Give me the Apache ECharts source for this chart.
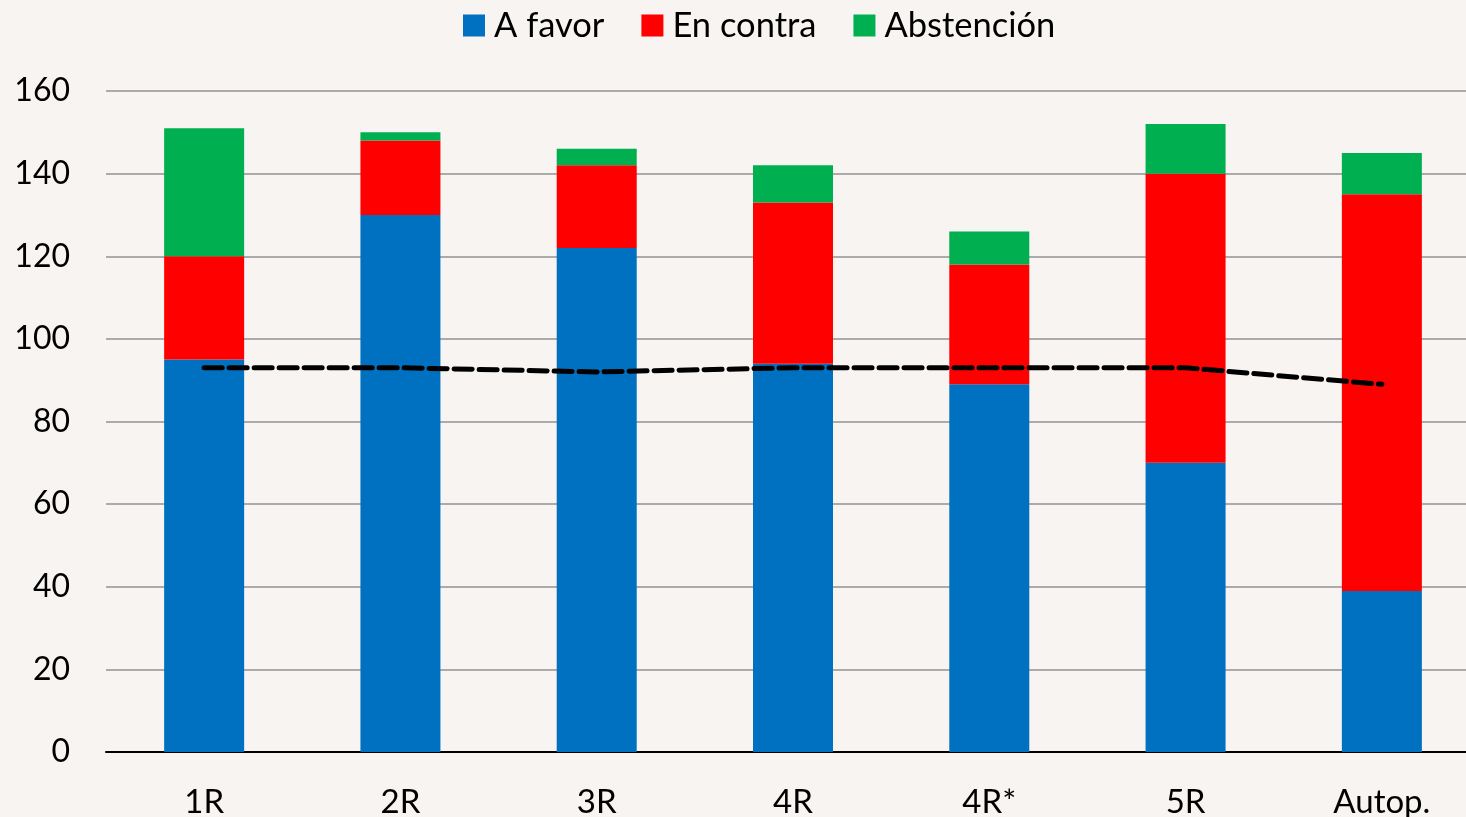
<!DOCTYPE html>
<html>
<head>
<meta charset="utf-8">
<script src="https://cdn.jsdelivr.net/npm/echarts@6/dist/echarts.min.js"></script>
<style>
html,body{margin:0;padding:0;background:#F7F4F1;}
#c{width:1466px;height:817px;}
</style>
</head>
<body>
<div id="c"></div>
<script>
const categories = ['1R', '2R', '3R', '4R', '4R*', '5R', 'Autop.'];
const aFavor = [95, 130, 122, 94, 89, 70, 39];
const enContra = [25, 18, 20, 39, 29, 70, 96];
const abstencion = [31, 2, 4, 9, 8, 12, 10];
const mayoria = [93, 93, 92, 93, 93, 93, 89];
const yTicks = [0, 20, 40, 60, 80, 100, 120, 140, 160];

const FONT = 'Lato';
const chart = echarts.init(document.getElementById('c'), null, {renderer: 'canvas'});
chart.setOption({
  backgroundColor: '#F7F4F1',
  animation: false,
  textStyle: {fontFamily: FONT},
  legend: {
    data: ['A favor', 'En contra', 'Abstención'],
    top: 8,
    left: 463,
    padding: 0,
    itemWidth: 22,
    itemHeight: 22,
    itemGap: 37,
    icon: 'rect',
    textStyle: {fontFamily: FONT, fontSize: 34.5, color: '#000', padding: [0, 0, 0, 4]}
  },
  grid: {left: 106, width: 1374, top: 91, height: 661, containLabel: false, outerBoundsMode: 'none'},
  xAxis: {
    type: 'category',
    data: categories,
    axisLine: {lineStyle: {color: '#000', width: 2}},
    axisTick: {show: false},
    axisLabel: {fontFamily: FONT, fontSize: 33, color: '#000', margin: 34}
  },
  yAxis: {
    type: 'value',
    min: yTicks[0],
    max: yTicks[yTicks.length - 1],
    interval: yTicks[1] - yTicks[0],
    axisLine: {show: false},
    axisTick: {show: false},
    splitLine: {lineStyle: {color: '#ABABAB', width: 2}},
    axisLabel: {fontFamily: FONT, fontSize: 32, color: '#000', margin: 36}
  },
  series: [
    {name: 'A favor', type: 'bar', stack: 'v', data: aFavor, barWidth: 80, itemStyle: {color: '#0070C0'}},
    {name: 'En contra', type: 'bar', stack: 'v', data: enContra, barWidth: 80, itemStyle: {color: '#FF0000'}},
    {name: 'Abstención', type: 'bar', stack: 'v', data: abstencion, barWidth: 80, itemStyle: {color: '#00B050'}},
    {name: 'Mayoría', type: 'line', data: mayoria, symbol: 'none', z: 5,
     lineStyle: {color: '#000', width: 5, type: [18, 7], cap: 'round'}}
  ]
});
</script>
</body>
</html>
